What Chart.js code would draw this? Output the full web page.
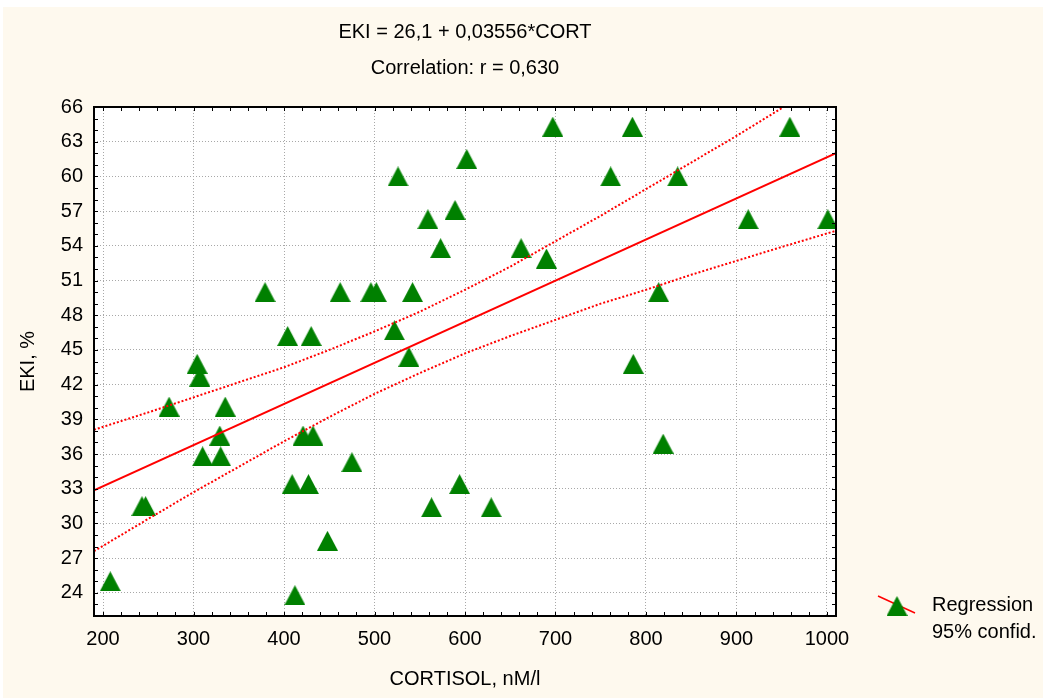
<!DOCTYPE html>
<html>
<head>
<meta charset="utf-8">
<title>EKI vs CORTISOL</title>
<script src="https://cdn.jsdelivr.net/npm/chart.js@4.4.1/dist/chart.umd.min.js"></script>
<style>
  html, body { margin: 0; padding: 0; background: #fff; }
  #wrap { position: absolute; left: 3px; top: 7px; width: 1040px; height: 691px; background: #fef9ee; }
  canvas { display: block; }
</style>
</head>
<body>
<div id="wrap"><canvas id="chart" width="1040" height="691"></canvas></div>
<script>
// points
const cortisol = [208, 243, 247, 273, 304, 307, 310, 329, 330, 335, 379, 404, 409, 412, 421, 427,
                  430, 432, 448, 462, 475, 496, 502, 522, 526, 538, 542, 559, 563, 573, 589, 594,
                  602, 629, 662, 690, 697, 761, 785, 786, 814, 819, 835, 913, 959, 1001];
const eki = [25.0, 31.5, 31.5, 40.1, 43.8, 42.7, 35.8, 37.6, 35.8, 40.1, 50.0, 46.2, 33.4, 23.8, 37.6, 33.4,
             46.2, 37.6, 28.5, 50.0, 35.3, 50.0, 50.0, 46.7, 60.0, 44.4, 50.0, 56.3, 31.4, 53.8, 57.1, 33.4,
             61.5, 31.4, 53.8, 52.9, 64.3, 60.0, 64.3, 43.8, 50.0, 36.9, 60.0, 56.3, 64.3, 56.3];

// regression line ends
const regX = [190, 1010];
const regY = [32.86, 62.02];

// 95% confidence band
const ciX = [190, 250, 300, 350, 400, 450, 500, 550, 600, 650, 700, 750, 800, 850, 900, 950, 1010];
const ciUpper = [38.1, 39.6, 40.9, 42.2, 43.5, 45.0, 46.6, 48.3, 50.2, 52.2, 54.4, 56.6, 58.9, 61.2, 63.5, 65.9, 68.7];
const ciLower = [27.6, 30.4, 32.7, 34.9, 37.1, 39.2, 41.2, 43.0, 44.7, 46.2, 47.6, 49.0, 50.2, 51.5, 52.7, 53.9, 55.3];

const xTicks = [200, 300, 400, 500, 600, 700, 800, 900, 1000];
const yTicks = [24, 27, 30, 33, 36, 39, 42, 45, 48, 51, 54, 57, 60, 63, 66];
const titleLines = ['EKI = 26,1 + 0,03556*CORT', 'Correlation: r = 0,630'];
const legendLabels = ['Regression', '95% confid.'];

const FONT = '"Liberation Sans", Arial, sans-serif';
const GREEN = '#008000';
const RED = '#ff0000';
const GRID = '#a8a8a8';
const xMinor = 20;
const yMinor = 1;

Chart.defaults.font.family = FONT;
Chart.defaults.font.size = 20;
Chart.defaults.color = '#000';

function makeTriangle(w, h, color) {
    const c = document.createElement('canvas');
    c.width = w;
    c.height = h;
    const g = c.getContext('2d');
    g.fillStyle = color;
    g.beginPath();
    g.moveTo(w / 2, 0);
    g.lineTo(w, h);
    g.lineTo(0, h);
    g.closePath();
    g.fill();
    return c;
}
const marker = makeTriangle(21, 20, GREEN);

const toPoints = (xs, ys) => xs.map((x, i) => ({ x: x, y: ys[i] }));

// white plot area, frame with inward ticks, legend on the right
const framePlugin = {
    id: 'frame',
    beforeDraw(chart) {
        const { ctx, chartArea: a } = chart;
        ctx.save();
        ctx.fillStyle = '#fff';
        ctx.fillRect(a.left, a.top, a.width, a.height);
        ctx.restore();
    },
    afterDraw(chart) {
        const { ctx, chartArea: a, scales } = chart;
        const x = scales.x, y = scales.y;
        ctx.save();
        ctx.strokeStyle = '#000';
        ctx.lineWidth = 1;
        ctx.beginPath();
        for (let v = xTicks[0]; v <= xTicks[xTicks.length - 1]; v += xMinor) {
            const px = Math.round(x.getPixelForValue(v)) + 0.5;
            ctx.moveTo(px, a.bottom); ctx.lineTo(px, a.bottom - 4);
            ctx.moveTo(px, a.top); ctx.lineTo(px, a.top + 4);
        }
        for (let v = y.min; v <= y.max; v += yMinor) {
            const py = Math.round(y.getPixelForValue(v)) + 0.5;
            ctx.moveTo(a.left, py); ctx.lineTo(a.left + 4, py);
            ctx.moveTo(a.right, py); ctx.lineTo(a.right - 4, py);
        }
        ctx.stroke();
        ctx.lineWidth = 2;
        ctx.strokeRect(a.left, a.top, a.width, a.height);

        // legend
        const cx = a.right + 61, cy = a.bottom - 10;
        ctx.strokeStyle = RED;
        ctx.lineWidth = 1.5;
        ctx.beginPath();
        ctx.moveTo(a.right + 42, a.bottom - 20);
        ctx.lineTo(a.right + 79, a.bottom - 3);
        ctx.stroke();
        ctx.drawImage(marker, cx - marker.width / 2, cy - marker.height / 2);
        ctx.fillStyle = '#000';
        ctx.font = '20px ' + FONT;
        ctx.textBaseline = 'middle';
        ctx.textAlign = 'left';
        ctx.fillText(legendLabels[0], a.right + 96, a.bottom - 11);
        ctx.fillText(legendLabels[1], a.right + 96, a.bottom + 16);
        ctx.restore();
    }
};

const ctx = document.getElementById('chart').getContext('2d');
const chart = new Chart(ctx, {
    type: 'scatter',
    data: {
        datasets: [
            {
                label: legendLabels[0],
                data: toPoints(regX, regY),
                showLine: true,
                borderColor: RED,
                borderWidth: 2,
                pointRadius: 0
            },
            {
                label: legendLabels[1],
                data: toPoints(ciX, ciUpper),
                showLine: true,
                borderColor: RED,
                borderWidth: 2,
                borderDash: [2, 2],
                pointRadius: 0
            },
            {
                label: legendLabels[1],
                data: toPoints(ciX, ciLower),
                showLine: true,
                borderColor: RED,
                borderWidth: 2,
                borderDash: [2, 2],
                pointRadius: 0
            },
            {
                label: 'EKI',
                data: toPoints(cortisol, eki),
                pointStyle: marker,
                pointRadius: 10,
                backgroundColor: GREEN,
                borderColor: GREEN
            }
        ]
    },
    options: {
        responsive: false,
        animation: false,
        layout: { padding: { right: 207 } },
        plugins: {
            legend: { display: false },
            tooltip: { enabled: false },
            title: {
                display: true,
                fullSize: false,
                text: titleLines,
                color: '#000',
                font: { size: 20, weight: 'normal', lineHeight: 1.8 },
                padding: { top: 7, bottom: 21 }
            }
        },
        scales: {
            x: {
                type: 'linear',
                min: 190,
                max: 1010,
                afterBuildTicks: (s) => { s.ticks = xTicks.map(v => ({ value: v })); },
                afterFit: (s) => { s.height = 82; },
                grid: { color: GRID, lineWidth: 1, drawTicks: false },
                border: { display: false, dash: [1, 2] },
                ticks: { padding: 11, maxRotation: 0, autoSkip: false, callback: v => String(v) },
                title: { display: true, text: 'CORTISOL, nM/l', padding: { top: 0, bottom: 7 } }
            },
            y: {
                type: 'linear',
                min: 22,
                max: 66,
                afterBuildTicks: (s) => { s.ticks = yTicks.map(v => ({ value: v })); },
                afterFit: (s) => { s.width = 91; },
                grid: { color: GRID, lineWidth: 1, drawTicks: false },
                border: { display: false, dash: [1, 2] },
                ticks: { padding: 11, autoSkip: false, callback: v => String(v) },
                title: { display: true, text: 'EKI, %', padding: { top: 13, bottom: 0 } }
            }
        }
    },
    plugins: [framePlugin]
});
</script>
</body>
</html>
